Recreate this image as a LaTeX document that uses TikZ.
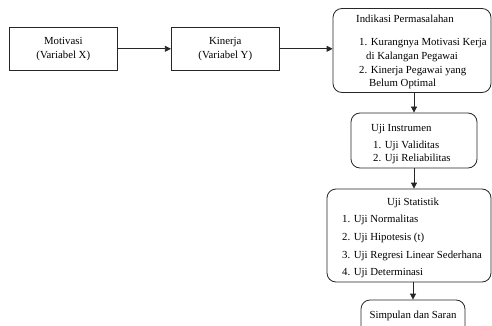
\documentclass[tikz,border=0pt]{standalone}
\usepackage{fontspec}
\setmainfont{Liberation Serif}
\usetikzlibrary{arrows.meta,calc}
\begin{document}
\begin{tikzpicture}[x=1pt,y=-1pt,
  font=\fontsize{10.8}{13.8}\selectfont,
  sqbox/.style={draw=black!85,line width=0.8pt,inner sep=0pt},
  rbox/.style={draw=black!85,line width=0.8pt,inner sep=0pt,rounded corners=9pt},
  lbl/.style={inner sep=0pt,anchor=west},
  clbl/.style={inner sep=0pt,anchor=center},
  arr/.style={draw=black!85,line width=0.8pt,-{Triangle[length=6pt,width=6pt]}}]
\useasboundingbox (0,0) rectangle (492,326);
\begin{scope}
\clip (0,0) rectangle (492,326);
% top row boxes
\node[sqbox,minimum width=108pt,minimum height=43pt,align=center] (b1) at (63.3,48.8) {Motivasi\\(Variabel X)};
\node[sqbox,minimum width=108pt,minimum height=43pt,align=center] (b2) at (225.3,48.8) {Kinerja\\(Variabel Y)};
% right column boxes
\node[rbox,minimum width=158pt,minimum height=84pt] (b3) at (412,50.5) {};
\node[rbox,minimum width=126pt,minimum height=55pt] (b4) at (414,140.5) {};
\node[rbox,minimum width=164pt,minimum height=93pt] (b5) at (409,235.5) {};
\node[rbox,minimum width=104pt,minimum height=44pt] (b6) at (413,322) {};
% texts
\node[lbl] (t3a) at (356,19) {Indikasi Permasalahan};
\node[lbl] (t3b) at (359,43) {1. Kurangnya Motivasi Kerja};
\node[lbl] (t3c) at (366,57) {di Kalangan Pegawai};
\node[lbl] (t3d) at (359,71) {2. Kinerja Pegawai yang};
\node[lbl] (t3e) at (369,84) {Belum Optimal};
\node[lbl] (t4a) at (371,129) {Uji Instrumen};
\node[lbl] (t4b) at (373,146) {1. Uji Validitas};
\node[lbl] (t4c) at (373,159) {2. Uji Reliabilitas};
\node[clbl] (t5a) at (413,203) {Uji Statistik};
\node[lbl] (t5b) at (342,220) {1. Uji Normalitas};
\node[lbl] (t5c) at (342,238) {2. Uji Hipotesis (t)};
\node[lbl] (t5d) at (342,256) {3. Uji Regresi Linear Sederhana};
\node[lbl] (t5e) at (342,273) {4. Uji Determinasi};
\node[clbl] (t6a) at (413,316) {Simpulan dan Saran};
% connectors
\draw[arr] (b1.east) -- (b2.west);
\draw[arr] (b2.east) -- (b3.west |- b2.east);
\draw[arr] (b4.north |- b3.south) -- (b4.north);
\draw[arr] (b4.south) -- (b4.south |- b5.north);
\draw[arr] (b6.north |- b5.south) -- (b6.north);
\end{scope}
\end{tikzpicture}
\end{document}
